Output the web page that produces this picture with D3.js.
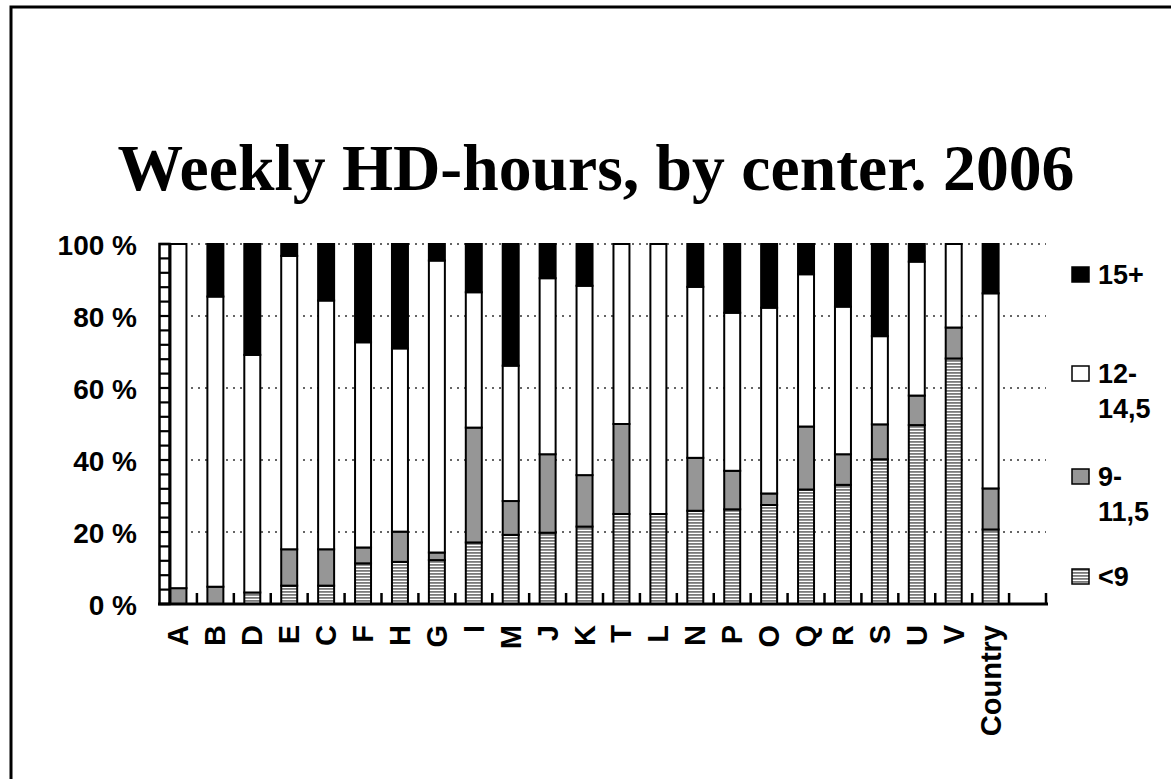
<!DOCTYPE html>
<html>
<head>
<meta charset="utf-8" />
<script src="https://d3js.org/d3.v7.min.js"></script>
<style>
body { margin: 0; background: #fff; }
text { font-family: "Liberation Sans", Arial, sans-serif; font-weight: bold; fill: #000; }
.title { font-family: "Liberation Serif", "Times New Roman", serif; }
</style>
</head>
<body>
<script type="text/javascript">
// data (percent of patients per center)
var centers = ["A","B","D","E","C","F","H","G","I","M","J","K","T","L","N","P","O","Q","R","S","U","V","Country"];
var under9 = [0, 0, 3.2, 5.1, 5.1, 11.3, 11.7, 12.2, 17.1, 19.2, 19.8, 21.5, 25, 25, 25.9, 26.3, 27.5, 31.8, 33.1, 40.2, 49.7, 68.2, 20.7];
var h9to11 = [4.4, 4.8, 0, 10.1, 10.1, 4.4, 8.4, 2.1, 31.9, 9.4, 21.8, 14.3, 25, 0, 14.7, 10.7, 3.2, 17.5, 8.5, 9.7, 8.2, 8.6, 11.4];
var h12to14 = [95.6, 80.6, 66, 81.5, 69.1, 57, 50.9, 81.1, 37.6, 37.6, 48.9, 52.6, 50, 75, 47.5, 43.9, 51.6, 42.3, 41, 24.5, 37.2, 23.2, 54.2];
var h15plus = [0, 14.6, 30.8, 3.3, 15.7, 27.3, 29, 4.6, 13.4, 33.8, 9.5, 11.6, 0, 0, 11.9, 19.1, 17.7, 8.4, 17.4, 25.6, 4.9, 0, 13.7];
var yTicks = [0, 20, 40, 60, 80, 100];
var legendLabels = [["15+"], ["12-", "14,5"], ["9-", "11,5"], ["<9"]];

var width = 1171, height = 779;
var keys = ["u9", "h9", "h12", "h15"];
var fills = { u9: "url(#hatch)", h9: "#969696", h12: "#fff", h15: "#000" };

var table = centers.map(function(c, i) {
  return { center: c, u9: under9[i], h9: h9to11[i], h12: h12to14[i], h15: h15plus[i] };
});
var series = d3.stack().keys(keys)(table);

var svg = d3.select("body").append("svg")
    .attr("width", width)
    .attr("height", height);

// hatch pattern for the <9 class
var pat = svg.append("defs").append("pattern")
    .attr("id", "hatch")
    .attr("patternUnits", "userSpaceOnUse")
    .attr("width", 4).attr("height", 3);
pat.append("rect").attr("width", 4).attr("height", 3).attr("fill", "#fff");
pat.append("rect").attr("width", 4).attr("height", 1.8).attr("fill", "#7a7a7a");

// frame (left and top edge only)
svg.append("path")
    .attr("d", "M11,779V7H1171")
    .attr("fill", "none").attr("stroke", "#000").attr("stroke-width", 3);

// title, fitted to its width in the picture
var title = svg.append("text")
    .attr("class", "title")
    .attr("x", 596).attr("y", 190)
    .attr("text-anchor", "middle")
    .style("font-size", "100px")
    .text("Weekly HD-hours, by center. 2006");
var tw = title.node().getComputedTextLength();
title.style("font-size", (100 * 957 / tw) + "px");

// one empty slot after Country
var x = d3.scaleBand()
    .domain(centers.concat([" "]))
    .range([160, 1046])
    .paddingInner(0.567)
    .paddingOuter(0.2835);
var y = d3.scaleLinear().domain([0, 100]).range([604, 244]);

// dotted gridlines
svg.append("g").selectAll("line")
    .data(yTicks.slice(1))
  .enter().append("line")
    .attr("x1", 170).attr("x2", 1046)
    .attr("y1", function(d) { return y(d); })
    .attr("y2", function(d) { return y(d); })
    .attr("stroke", "#333").attr("stroke-width", 1.5)
    .attr("stroke-dasharray", "2,5");

// stacked bars
svg.append("g").selectAll("g")
    .data(series)
  .enter().append("g")
    .attr("fill", function(s) { return fills[s.key]; })
  .selectAll("rect")
    .data(function(s) { return s.filter(function(d) { return d[1] - d[0] > 0; }); })
  .enter().append("rect")
    .attr("x", function(d) { return x(d.data.center); })
    .attr("width", x.bandwidth())
    .attr("y", function(d) { return y(d[1]); })
    .attr("height", function(d) { return y(d[0]) - y(d[1]); })
    .attr("stroke", "#000").attr("stroke-width", 2);

// y axis: ladder with a rung every 4 %
var yAxis = svg.append("g");
yAxis.append("rect")
    .attr("x", 159.5).attr("y", y(100))
    .attr("width", 10).attr("height", y(0) - y(100))
    .attr("fill", "#fff").attr("stroke", "#000").attr("stroke-width", 2.5);
yAxis.selectAll("line")
    .data(d3.range(0, 101, 4))
  .enter().append("line")
    .attr("x1", 159.5).attr("x2", 169.5)
    .attr("y1", function(d) { return y(d); })
    .attr("y2", function(d) { return y(d); })
    .attr("stroke", "#000").attr("stroke-width", 2.2);
yAxis.selectAll("text")
    .data(yTicks)
  .enter().append("text")
    .attr("x", 137)
    .attr("y", function(d) { return y(d) + 11; })
    .attr("text-anchor", "end")
    .style("font-size", "28px")
    .text(function(d) { return d + " %"; });

// x axis with upward ticks between categories
var xAxis = svg.append("g");
xAxis.append("line")
    .attr("x1", 158).attr("x2", 1048)
    .attr("y1", 604).attr("y2", 604)
    .attr("stroke", "#000").attr("stroke-width", 3);
xAxis.selectAll(".tk")
    .data(d3.range(1, x.domain().length + 1))
  .enter().append("line")
    .attr("x1", function(i) { return 160 + i * x.step(); })
    .attr("x2", function(i) { return 160 + i * x.step(); })
    .attr("y1", 604).attr("y2", 593)
    .attr("stroke", "#000").attr("stroke-width", 2.5);
xAxis.selectAll("text")
    .data(centers)
  .enter().append("text")
    .attr("transform", function(d) {
      return "translate(" + (x(d) + x.bandwidth() / 2 + 10) + ",625) rotate(-90)"; })
    .attr("text-anchor", "end")
    .style("font-size", "29px")
    .text(function(d) { return d; });

// legend
var legendFills = [fills.h15, fills.h12, fills.h9, fills.u9];
var legendTop = [267, 366, 469, 569];
var legend = svg.append("g").selectAll("g")
    .data(legendLabels)
  .enter().append("g")
    .attr("transform", function(d, i) { return "translate(1072," + legendTop[i] + ")"; });
legend.append("rect")
    .attr("width", 17).attr("height", 15)
    .attr("fill", function(d, i) { return legendFills[i]; })
    .attr("stroke", "#000").attr("stroke-width", 1.5);
legend.selectAll("text")
    .data(function(d) { return d; })
  .enter().append("text")
    .attr("x", 26)
    .attr("y", function(d, j) { return 17 + j * 35; })
    .style("font-size", "27px")
    .text(function(d) { return d; });
</script>
</body>
</html>
